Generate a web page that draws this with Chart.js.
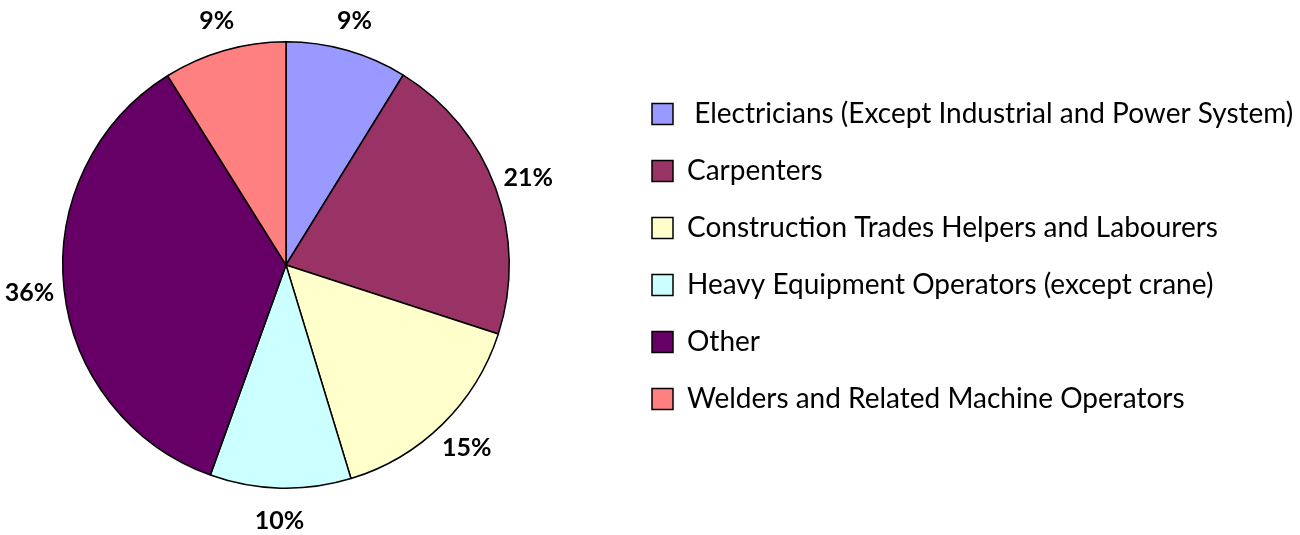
<!DOCTYPE html>
<html>
<head>
<meta charset="utf-8">
<script src="https://cdn.jsdelivr.net/npm/chart.js@4.4.0/dist/chart.umd.min.js"></script>
<style>
html,body{margin:0;padding:0;background:#ffffff;}
#wrap{width:1300px;height:535px;position:relative;}
</style>
</head>
<body>
<div id="wrap"><canvas id="c"></canvas></div>
<script>
// ---- data ----
const categories = [
  ' Electricians (Except Industrial and Power System)',
  'Carpenters',
  'Construction Trades Helpers and Labourers',
  'Heavy Equipment Operators (except crane)',
  'Other',
  'Welders and Related Machine Operators'
];
const shares = [8.8, 21.2, 15.3, 10.2, 35.6, 8.9];
const sliceColors = ['#9999FF', '#993366', '#FFFFCC', '#CCFFFF', '#660066', '#FF8080'];

// ---- layout settings ----
const W = 1300;
const FONT = 'Lato, "Open Sans", sans-serif';
const legendFontSize = 28;
const legendPad = 29;
const boxSize = 21;
const legendBoxX = 652;          // x of the legend colour boxes
const pieCenterX = 286;
const areaRight = 2 * pieCenterX; // chart area [0, areaRight] centres the pie
// vertical layout boxes are capped at half the available width:
// choose right padding so that cap puts the chart area edge at areaRight
const padRight = W - 2 * areaRight;

const shiftLegend = {
  id: 'shiftLegend',
  afterLayout(chart) {
    const lg = chart.legend;
    if (!lg) return;
    lg.left = legendBoxX - legendPad;
    lg.right = W;
    lg.width = lg.right - lg.left;
  }
};

const pctLabels = {
  id: 'pctLabels',
  afterDatasetsDraw(chart) {
    const ctx = chart.ctx;
    const meta = chart.getDatasetMeta(0);
    const data = chart.data.datasets[0].data;
    const total = data.reduce((a, b) => a + b, 0);
    ctx.save();
    ctx.font = 'bold 25px ' + FONT;
    ctx.fillStyle = '#000';
    ctx.textAlign = 'center';
    ctx.textBaseline = 'middle';
    meta.data.forEach((arc, i) => {
      const p = arc.getProps(['x', 'y', 'startAngle', 'endAngle', 'outerRadius'], true);
      const mid = (p.startAngle + p.endAngle) / 2;
      const txt = Math.round(data[i] / total * 100) + '%';
      const hw = ctx.measureText(txt).width / 2;
      const hh = 10;
      const dx = p.outerRadius + 10 + hw;
      const dy = p.outerRadius + 22 + hh;
      ctx.fillText(txt, p.x + Math.cos(mid) * dx, p.y + Math.sin(mid) * dy + 1);
    });
    ctx.restore();
  }
};

new Chart(document.getElementById('c'), {
  type: 'pie',
  data: {
    labels: categories,
    datasets: [{
      data: shares,
      backgroundColor: sliceColors,
      borderColor: '#000000',
      borderWidth: 1.5,
      hoverOffset: 0
    }]
  },
  options: {
    responsive: true,
    maintainAspectRatio: false,
    animation: false,
    events: [],
    layout: { padding: { left: 0, right: padRight, top: 41, bottom: 46 } },
    plugins: {
      tooltip: { enabled: false },
      legend: {
        position: 'right',
        align: 'start',
        title: { display: true, text: '', padding: 0, font: { size: 30, lineHeight: 1 } },
        labels: {
          boxWidth: boxSize,
          boxHeight: boxSize,
          padding: legendPad,
          color: '#000000',
          font: { family: FONT, size: legendFontSize }
        }
      }
    }
  },
  plugins: [shiftLegend, pctLabels]
});
</script>
</body>
</html>
